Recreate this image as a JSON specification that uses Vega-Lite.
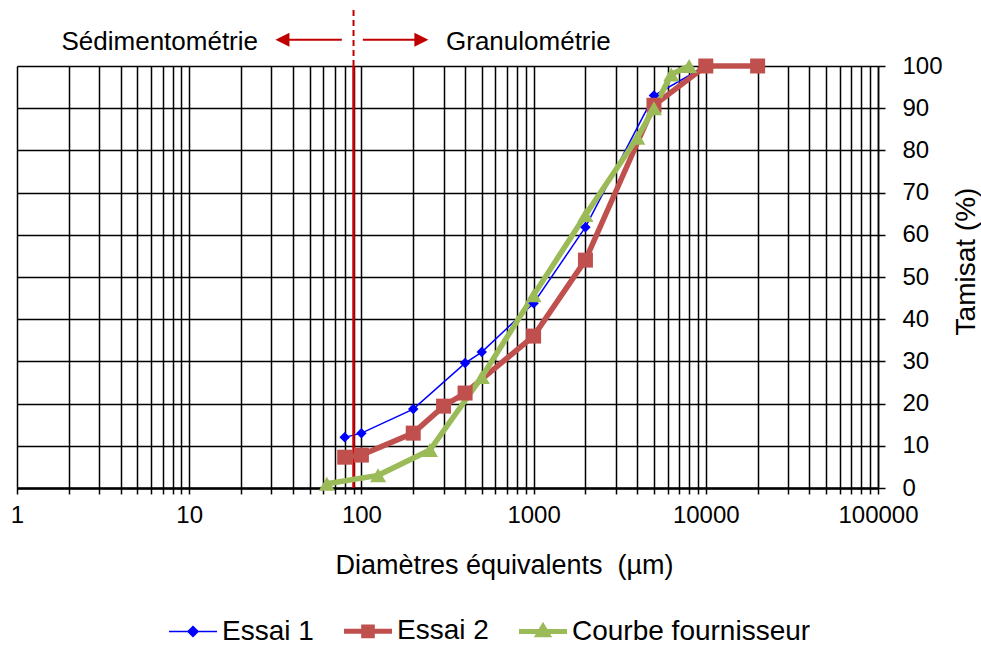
{
  "$schema": "https://vega.github.io/schema/vega-lite/v6.json",
  "autosize": "none",
  "width": 861,
  "height": 422,
  "padding": {"left": 17, "top": 66, "right": 103, "bottom": 158},
  "background": "white",
  "config": {
    "font": "Liberation Sans",
    "view": {"stroke": null},
    "axis": {"labelFont": "Liberation Sans", "titleFont": "Liberation Sans", "labelColor": "black", "titleColor": "black", "titleFontWeight": "normal"}
  },
  "datasets": {
    "courbes": [
      {"serie": "Essai 1", "d": 80, "p": 12},
      {"serie": "Essai 1", "d": 100, "p": 13},
      {"serie": "Essai 1", "d": 200, "p": 18.7},
      {"serie": "Essai 1", "d": 400, "p": 29.6},
      {"serie": "Essai 1", "d": 500, "p": 32.2},
      {"serie": "Essai 1", "d": 1000, "p": 43.8},
      {"serie": "Essai 1", "d": 2000, "p": 61.8},
      {"serie": "Essai 1", "d": 5000, "p": 93},
      {"serie": "Essai 1", "d": 10000, "p": 100},
      {"serie": "Essai 2", "d": 80, "p": 7.3},
      {"serie": "Essai 2", "d": 100, "p": 7.8},
      {"serie": "Essai 2", "d": 200, "p": 13},
      {"serie": "Essai 2", "d": 300, "p": 19.4},
      {"serie": "Essai 2", "d": 400, "p": 22.5},
      {"serie": "Essai 2", "d": 1000, "p": 36},
      {"serie": "Essai 2", "d": 2000, "p": 54},
      {"serie": "Essai 2", "d": 5000, "p": 90.7},
      {"serie": "Essai 2", "d": 10000, "p": 100},
      {"serie": "Essai 2", "d": 20000, "p": 100},
      {"serie": "Courbe fournisseur", "d": 63, "p": 1},
      {"serie": "Courbe fournisseur", "d": 125, "p": 3},
      {"serie": "Courbe fournisseur", "d": 250, "p": 9},
      {"serie": "Courbe fournisseur", "d": 500, "p": 26.3},
      {"serie": "Courbe fournisseur", "d": 1000, "p": 45.7},
      {"serie": "Courbe fournisseur", "d": 2000, "p": 64.7},
      {"serie": "Courbe fournisseur", "d": 4000, "p": 83},
      {"serie": "Courbe fournisseur", "d": 5000, "p": 90},
      {"serie": "Courbe fournisseur", "d": 6300, "p": 98},
      {"serie": "Courbe fournisseur", "d": 8000, "p": 100}
    ],
    "limite": [{"d": 90}],
    "fleches": [{"d": 38, "d2": 77}, {"d": 102, "d2": 222}],
    "pointes": [{"d": 34.8, "sens": "gauche"}, {"d": 223, "sens": "droite"}],
    "gauche": [{"d": 25.1, "t": "Sédimentométrie"}],
    "droite": [{"d": 310, "t": "Granulométrie"}]
  },
  "layer": [
    {
      "data": {"name": "courbes"},
      "transform": [{"filter": "datum.serie === 'Essai 1'"}],
      "mark": {"type": "line", "strokeWidth": 1.5},
      "encoding": {
        "x": {
          "field": "d", "type": "quantitative",
          "scale": {"type": "log", "domain": [1, 100000], "nice": false},
          "axis": {
            "orient": "bottom",
            "title": "Diamètres équivalents \u00a0(µm)",
            "titleFontSize": 27, "titleX": 487, "titleY": 77, "titleBaseline": "middle", "titleAnchor": "middle", "titleAlign": "center",
            "values": [1,2,3,4,5,6,7,8,9,10,20,30,40,50,60,70,80,90,100,200,300,400,500,600,700,800,900,1000,2000,3000,4000,5000,6000,7000,8000,9000,10000,20000,30000,40000,50000,60000,70000,80000,90000,100000],
            "labelExpr": "indexof([1,10,100,1000,10000,100000], datum.value) >= 0 ? format(datum.value, 'd') : ''",
            "labelFontSize": 24, "labelOverlap": false, "labelPadding": 9, "labelFlush": false,
            "grid": true, "gridColor": "black", "gridWidth": 1.5, "gridOpacity": 1,
            "tickColor": "black", "tickSize": 6, "tickWidth": 1.5,
            "domainColor": "black", "domainWidth": 2.5
          }
        },
        "y": {
          "field": "p", "type": "quantitative",
          "scale": {"domain": [0, 100], "nice": false, "zero": true},
          "axis": {
            "orient": "right",
            "title": "Tamisat (%)",
            "titleFontSize": 28, "titleAngle": -90, "titleX": 88, "titleY": 195, "titleBaseline": "middle", "titleAlign": "center",
            "values": [0,10,20,30,40,50,60,70,80,90,100],
            "labelFontSize": 24, "labelPadding": 17, "labelAlign": "left", "labelBaseline": "middle",
            "grid": true, "gridColor": "black", "gridWidth": 1.5, "gridOpacity": 1,
            "tickColor": "black", "tickSize": 7, "tickWidth": 1.5,
            "domainColor": "black", "domainWidth": 1.5
          }
        },
        "color": {"field": "serie", "type": "nominal",
          "scale": {"domain": ["Essai 1", "Essai 2", "Courbe fournisseur"], "range": ["#0000FF", "#C0504D", "#9BBB59"]},
          "legend": {
            "orient": "none", "legendX": 162, "legendY": 551, "direction": "horizontal", "columns": 3,
            "title": null, "padding": 0, "symbolSize": 2304, "labelFontSize": 28, "labelFont": "Liberation Sans", "labelColor": "black",
            "labelLimit": 400, "labelOffset": 15, "columnPadding": 20,
            "encode": {"symbols": {"update": {
              "shape": {"signal": "datum.value === 'Essai 1' ? 'M-1,0L1,0M0,-0.21L0.21,0L0,0.21L-0.21,0Z' : datum.value === 'Essai 2' ? 'M-1,0L1,0M-0.18,-0.18L0.18,-0.18L0.18,0.18L-0.18,0.18Z' : 'M-1,0L1,0M0,-0.2L0.2,0.14L-0.2,0.14Z'"},
              "fill": {"signal": "datum.value === 'Essai 1' ? '#0000FF' : datum.value === 'Essai 2' ? '#C0504D' : '#9BBB59'"},
              "stroke": {"signal": "datum.value === 'Essai 1' ? '#0000FF' : datum.value === 'Essai 2' ? '#C0504D' : '#9BBB59'"},
              "strokeWidth": {"signal": "datum.value === 'Essai 1' ? 1.5 : 5"},
              "opacity": {"value": 1}, "fillOpacity": {"value": 1}, "strokeOpacity": {"value": 1}
            }}}
          }
        }
      }
    },
    {
      "data": {"name": "limite"},
      "mark": {"type": "rule", "color": "#D00000", "strokeWidth": 2.5},
      "encoding": {"x": {"field": "d", "type": "quantitative"}, "y": {"datum": 0, "type": "quantitative"}, "y2": {"datum": 100}}
    },
    {
      "data": {"name": "limite"},
      "mark": {"type": "rule", "color": "#C00000", "strokeWidth": 2, "strokeDash": [6, 4]},
      "encoding": {"x": {"field": "d", "type": "quantitative"}, "y": {"datum": 100, "type": "quantitative"}, "y2": {"datum": 113.3}}
    },
    {
      "data": {"name": "fleches"},
      "mark": {"type": "rule", "color": "#C00000", "strokeWidth": 2},
      "encoding": {"x": {"field": "d", "type": "quantitative"}, "x2": {"field": "d2"}, "y": {"datum": 106.2, "type": "quantitative"}}
    },
    {
      "data": {"name": "pointes"},
      "mark": {"type": "point", "filled": true, "color": "#C00000", "size": 196, "opacity": 1},
      "encoding": {
        "x": {"field": "d", "type": "quantitative"},
        "y": {"datum": 106.2, "type": "quantitative"},
        "shape": {"field": "sens", "type": "nominal", "scale": {"domain": ["gauche", "droite"], "range": ["M-1,0L1,-1L1,1Z", "M1,0L-1,-1L-1,1Z"]}, "legend": null}
      }
    },
    {
      "data": {"name": "gauche"},
      "mark": {"type": "text", "align": "right", "baseline": "alphabetic", "fontSize": 26, "font": "Liberation Sans", "color": "black"},
      "encoding": {"x": {"field": "d", "type": "quantitative"}, "y": {"datum": 103.8, "type": "quantitative"}, "text": {"field": "t"}}
    },
    {
      "data": {"name": "droite"},
      "mark": {"type": "text", "align": "left", "baseline": "alphabetic", "fontSize": 26, "font": "Liberation Sans", "color": "black"},
      "encoding": {"x": {"field": "d", "type": "quantitative"}, "y": {"datum": 103.8, "type": "quantitative"}, "text": {"field": "t"}}
    },
    {
      "data": {"name": "courbes"},
      "transform": [{"filter": "datum.serie === 'Essai 2'"}],
      "mark": {"type": "line", "strokeWidth": 5.5},
      "encoding": {"x": {"field": "d", "type": "quantitative"}, "y": {"field": "p", "type": "quantitative"}, "color": {"field": "serie", "type": "nominal"}}
    },
    {
      "data": {"name": "courbes"},
      "transform": [{"filter": "datum.serie === 'Courbe fournisseur'"}],
      "mark": {"type": "line", "strokeWidth": 5.5},
      "encoding": {"x": {"field": "d", "type": "quantitative"}, "y": {"field": "p", "type": "quantitative"}, "color": {"field": "serie", "type": "nominal"}}
    },
    {
      "data": {"name": "courbes"},
      "transform": [{"filter": "datum.serie === 'Essai 1'"}],
      "mark": {"type": "point", "shape": "diamond", "filled": true, "size": 110, "opacity": 1},
      "encoding": {"x": {"field": "d", "type": "quantitative"}, "y": {"field": "p", "type": "quantitative"}, "color": {"field": "serie", "type": "nominal"}}
    },
    {
      "data": {"name": "courbes"},
      "transform": [{"filter": "datum.serie === 'Essai 2'"}],
      "mark": {"type": "point", "shape": "square", "filled": true, "size": 225, "opacity": 1},
      "encoding": {"x": {"field": "d", "type": "quantitative"}, "y": {"field": "p", "type": "quantitative"}, "color": {"field": "serie", "type": "nominal"}}
    },
    {
      "data": {"name": "courbes"},
      "transform": [{"filter": "datum.serie === 'Courbe fournisseur'"}],
      "mark": {"type": "point", "shape": "triangle-up", "filled": true, "size": 260, "opacity": 1},
      "encoding": {"x": {"field": "d", "type": "quantitative"}, "y": {"field": "p", "type": "quantitative"}, "color": {"field": "serie", "type": "nominal"}}
    }
  ]
}
